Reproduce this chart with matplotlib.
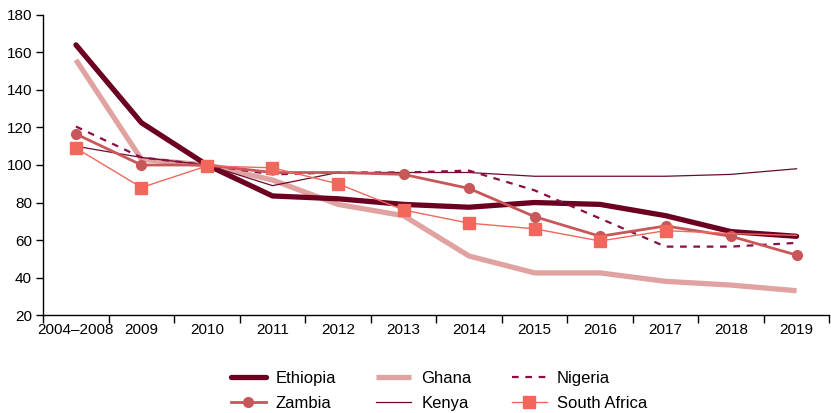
import matplotlib
matplotlib.use("Agg")
import matplotlib.pyplot as plt
import numpy as np

plt.rcParams['font.family'] = ['Liberation Sans', 'DejaVu Sans']

categories = ["2004–2008", "2009", "2010", "2011", "2012", "2013", "2014",
              "2015", "2016", "2017", "2018", "2019"]
ethiopia = [164, 122.5, 100, 83.5, 82, 79, 77.5, 80, 79, 73, 64.5, 62]
ghana = [156, 103, 100, 92, 79, 73, 51.5, 42.5, 42.5, 38, 36, 33]
nigeria = [120.5, 104, 100, 95, 96, 96, 97, 86.5, 71.5, 56.5, 56.5, 58.5]
zambia = [116.5, 100, 100, 96, 96, 95, 87.5, 72.5, 62, 67.5, 62, 52]
kenya = [110, 104, 100, 89, 96, 96, 96, 94, 94, 94, 95, 98]
south_africa = [109, 88, 99.5, 98.5, 90, 76, 69, 66, 59.5, 65, 63.5, 62.5]
yticks = [20, 40, 60, 80, 100, 120, 140, 160, 180]

x = np.arange(len(categories))

fig = plt.figure(figsize=(8.31, 4.13), dpi=100)
ax = fig.add_axes([0.052, 0.237, 0.946, 0.727])

c_eth = "#6B0020"
c_gha = "#E0A3A1"
c_nig = "#8A0F45"
c_zam = "#C8575A"
c_ken = "#6B0A2A"
c_sa = "#F2675C"

l_gha, = ax.plot(x, ghana, color=c_gha, lw=3.8, solid_capstyle='butt', label="Ghana", zorder=2)
l_eth, = ax.plot(x, ethiopia, color=c_eth, lw=3.8, solid_capstyle='round', label="Ethiopia", zorder=3)
l_ken, = ax.plot(x, kenya, color=c_ken, lw=0.9, label="Kenya", zorder=4)
l_nig, = ax.plot(x, nigeria, color=c_nig, lw=1.6, ls=(0, (3, 3)), label="Nigeria", zorder=4)
l_zam, = ax.plot(x, zambia, color=c_zam, lw=2.0, marker='o', ms=7,
                 markevery=[0, 1, 2, 5, 6, 7, 8, 9, 10, 11], label="Zambia", zorder=5)
l_sa, = ax.plot(x, south_africa, color=c_sa, lw=1.0, marker='s', ms=9,
                markevery=list(range(10)), label="South Africa", zorder=5)

ax.set_xlim(-0.5, len(categories) - 0.5)
ax.set_ylim(20, 180)
ax.set_yticks(yticks)
ax.set_xticks(x)
ax.set_xticklabels(categories)
ax.set_xticks(np.arange(-0.5, len(categories) + 0.5, 1), minor=True)
ax.tick_params(axis='x', which='major', length=0, labelsize=11, pad=6)
ax.tick_params(axis='x', which='minor', length=6, direction='out', width=1)
ax.tick_params(axis='y', length=5, direction='out', labelsize=11, width=1, pad=3)

for s in ['top', 'right']:
    ax.spines[s].set_visible(False)
for s in ['left', 'bottom']:
    ax.spines[s].set_linewidth(1.0)

handles = [l_eth, l_zam, l_gha, l_ken, l_nig, l_sa]
leg = fig.legend(handles=handles, labels=[h.get_label() for h in handles],
                 ncol=3, loc='center', bbox_to_anchor=(0.528, 0.053),
                 frameon=False, fontsize=12, handlelength=2.1,
                 columnspacing=2.4, labelspacing=0.6, handletextpad=0.6,
                 borderpad=0.1)

fig.savefig("out.png", dpi=100)
